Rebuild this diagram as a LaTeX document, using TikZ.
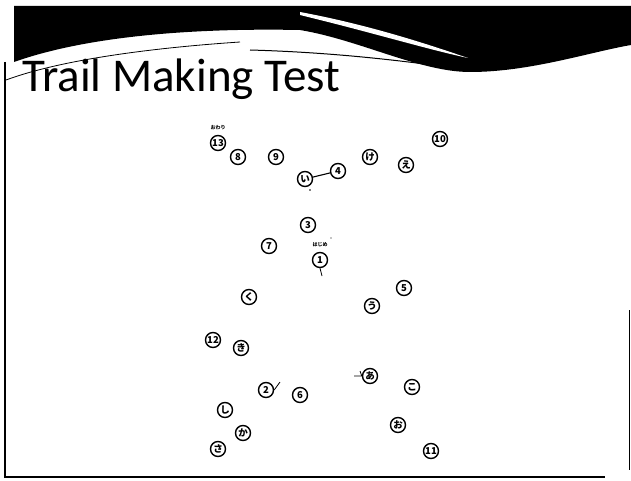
\documentclass[tikz,border=0pt]{standalone}
\usepackage{fontspec}
\setmainfont{Carlito}
\newfontfamily\jpfont{Noto Sans CJK JP}
\begin{document}
\begin{tikzpicture}[x=1pt,y=-1pt,
  dot/.style={circle,draw,line width=1.4pt,minimum size=15pt,inner sep=0pt,font=\jpfont\fontsize{9.5}{9.5}\selectfont\bfseries},
  tag/.style={font=\jpfont\fontsize{5}{5}\selectfont\bfseries,inner sep=0pt},
  trail/.style={line width=1.1pt}]
\useasboundingbox (0,0) rectangle (631,481);
% slide header band
\fill[black] (14,6) -- (631,6) -- (631,45)
  .. controls (590,52) and (530,72) .. (470,72)
  .. controls (420,72) and (360,40) .. (300,30)
  .. controls (200,28) and (90,35) .. (14,62) -- cycle;
\fill[white] (300,12) .. controls (370,25) and (430,45) .. (468,58)
  .. controls (430,50) and (370,32) .. (300,15) -- cycle;
\draw[line width=1pt] (250,50) .. controls (320,52) and (380,58) .. (440,66);
\draw[line width=0.8pt] (6,80) .. controls (60,60) and (150,48) .. (240,42);
% frame lines
\draw[line width=1.6pt] (5,62) -- (5,477) -- (605,477);
\draw[line width=0.8pt] (629,310) -- (629,470);
% title
\node[anchor=base west,inner sep=0pt,font=\fontsize{47}{47}\selectfont] (title) at (22,92) {Trail Making Test};
% circles
\node[dot] (n13) at (218,143) {13};
\node[dot] (n8)  at (238,157) {8};
\node[dot] (n9)  at (276,157) {9};
\node[dot] (hi)  at (305,179) {い};
\node[dot] (n4)  at (338,171) {4};
\node[dot] (hke) at (370,157) {け};
\node[dot] (he)  at (406,165) {え};
\node[dot] (n10) at (440,139) {10};
\node[dot] (n3)  at (308,225) {3};
\node[dot] (n7)  at (269,246) {7};
\node[dot] (n1)  at (320,260) {1};
\node[dot] (n5)  at (404,288) {5};
\node[dot] (hku) at (249,297) {く};
\node[dot] (hu)  at (372,306) {う};
\node[dot] (n12) at (213,340) {12};
\node[dot] (hki) at (241,348) {き};
\node[dot] (ha)  at (370,376) {あ};
\node[dot] (n2)  at (266,390) {2};
\node[dot] (n6)  at (300,395) {6};
\node[dot] (hko) at (412,387) {こ};
\node[dot] (hsi) at (225,410) {し};
\node[dot] (hka) at (243,433) {か};
\node[dot] (hsa) at (218,449) {さ};
\node[dot] (ho)  at (398,425) {お};
\node[dot] (n11) at (431,451) {11};
% start and end tags
\node[tag] (end)   at (218,128) {おわり};
\node[tag] (start) at (320,245) {はじめ};
% pencil strokes
\draw[trail] (n4) -- (hi);
\coordinate (t1) at (322,276);
\draw[line width=0.8pt] (n1.south) -- (t1);
\coordinate (t2) at (280,382);
\draw[line width=0.8pt] (n2.east) -- (t2);
\coordinate (t3) at (354,376);
\coordinate (t4) at (360,371);
\draw[line width=0.8pt] (t3) -- (ha.west) -- (t4);
\fill (310,190) circle (0.8);
\fill (331,238) circle (0.7);
\end{tikzpicture}
\end{document}
